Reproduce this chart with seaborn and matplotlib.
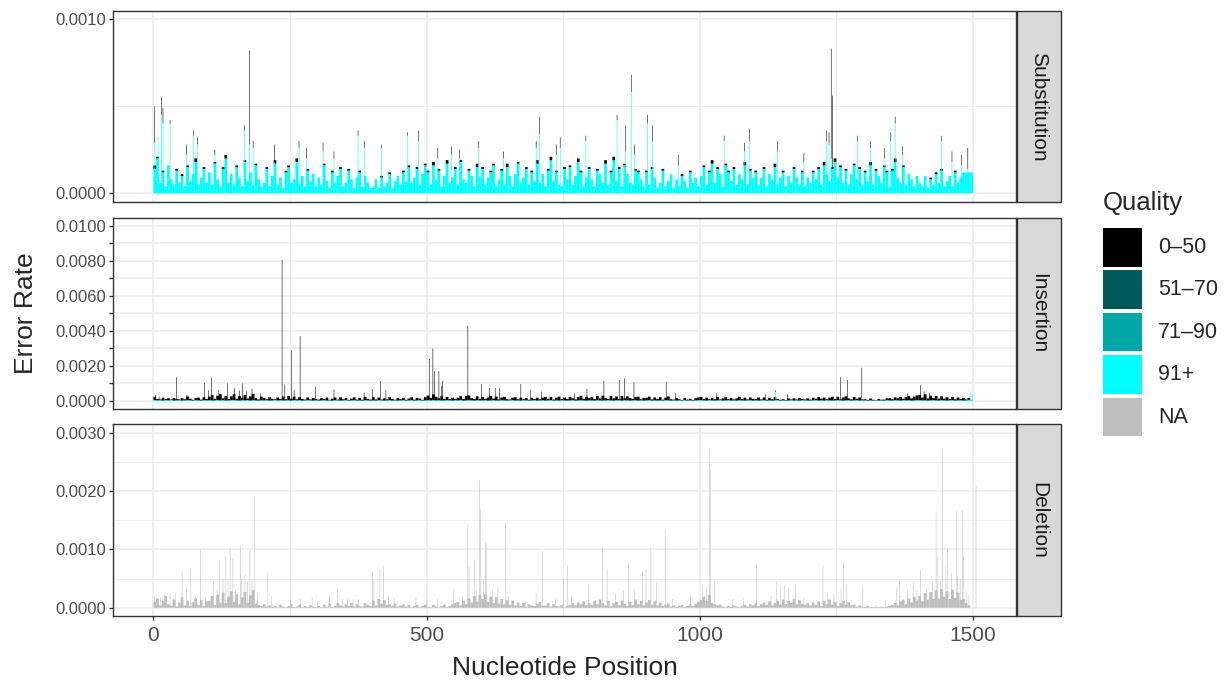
import numpy as np
import pandas as pd
import matplotlib
matplotlib.use("Agg")
import matplotlib.pyplot as plt
from matplotlib.patches import Rectangle
from matplotlib.ticker import FixedLocator, FixedFormatter
import seaborn as sns

# ---- data (error rates in units of 1e-5) ----
quality_levels = ["0–50", "51–70", "71–90", "91+", "NA"]
quality_colors = ["#000000", "#005a5a", "#00a6a6", "#00ffff", "#bebebe"]
panel_names = ["Substitution", "Insertion", "Deletion"]

# background profile, one value per 5 nucleotides (0 .. 1495)
sub_cyan = [
    14, 20, 6, 12, 4, 16, 8, 5, 13, 6, 10, 4, 15, 7, 11, 18, 5, 9, 14, 6,
    12, 5, 17, 8, 4, 14, 20, 6, 11, 5, 15, 9, 4, 18, 7, 12, 5, 16, 8, 4,
    6, 14, 4, 10, 17, 5, 9, 3, 12, 15, 6, 8, 18, 5, 10, 4, 13, 7, 11, 4,
    9, 5, 16, 7, 3, 12, 6, 10, 14, 4, 6, 13, 8, 3, 9, 12, 4, 10, 6, 3,
    4, 8, 3, 9, 4, 6, 11, 3, 7, 10, 5, 12, 7, 15, 6, 9, 14, 5, 11, 16,
    12, 5, 16, 8, 13, 4, 10, 17, 6, 9, 14, 5, 18, 8, 6, 13, 10, 4, 15, 9,
    14, 5, 9, 12, 16, 4, 8, 13, 5, 15, 10, 4, 11, 17, 6, 9, 14, 5, 12, 7,
    17, 6, 11, 4, 13, 19, 7, 12, 5, 4, 14, 8, 15, 5, 10, 18, 12, 4, 9, 14,
    8, 4, 13, 11, 6, 17, 5, 12, 19, 7, 14, 4, 16, 11, 6, 5, 13, 12, 8, 4,
    12, 5, 14, 9, 3, 6, 13, 4, 7, 11, 3, 8, 4, 10, 7, 3, 12, 6, 9, 4,
    10, 15, 5, 12, 17, 6, 14, 11, 4, 16, 12, 7, 14, 5, 11, 8, 16, 5, 13, 9,
    12, 5, 9, 14, 4, 11, 8, 15, 5, 9, 12, 4, 10, 6, 14, 9, 5, 12, 4, 9,
    6, 12, 8, 14, 5, 16, 11, 7, 14, 18, 9, 15, 6, 13, 5, 11, 16, 8, 14, 5,
    12, 7, 16, 5, 13, 10, 6, 15, 12, 4, 13, 18, 9, 6, 15, 5, 11, 8, 4, 10,
    6, 4, 10, 3, 8, 5, 11, 6, 13, 4, 7, 10, 4, 12, 6, 9, 12, 12, 12, 12,
]
sub_black = [
    2, 1, 0, 1, 0, 0, 0, 0, 1, 0, 1, 0, 1, 0, 0, 2, 0, 0, 1, 0,
    0, 0, 1, 0, 0, 1, 2, 0, 0, 0, 1, 0, 0, 1, 0, 0, 0, 1, 0, 0,
    0, 1, 0, 0, 2, 0, 0, 0, 1, 1, 0, 0, 2, 0, 0, 0, 1, 0, 0, 0,
    0, 0, 1, 0, 0, 1, 0, 0, 1, 0, 0, 1, 0, 0, 0, 1, 0, 0, 0, 0,
    0, 0, 0, 1, 0, 0, 1, 0, 0, 0, 0, 1, 0, 1, 0, 0, 1, 0, 0, 1,
    1, 0, 2, 0, 1, 0, 0, 2, 0, 0, 1, 0, 1, 0, 0, 1, 0, 0, 2, 0,
    1, 0, 0, 1, 1, 0, 0, 1, 0, 2, 0, 0, 0, 1, 0, 0, 1, 0, 1, 0,
    2, 0, 0, 0, 1, 2, 0, 1, 0, 0, 1, 0, 1, 0, 0, 2, 1, 0, 0, 1,
    0, 0, 1, 0, 0, 2, 0, 1, 2, 0, 1, 0, 1, 0, 0, 0, 1, 1, 0, 0,
    1, 0, 1, 0, 0, 0, 1, 0, 0, 0, 0, 0, 0, 1, 0, 0, 1, 0, 0, 0,
    0, 1, 0, 1, 2, 0, 1, 0, 0, 1, 1, 0, 1, 0, 0, 0, 2, 0, 1, 0,
    1, 0, 0, 1, 0, 0, 0, 2, 0, 0, 1, 0, 0, 0, 1, 0, 0, 1, 0, 0,
    0, 1, 0, 1, 0, 2, 0, 0, 1, 2, 0, 1, 0, 1, 0, 0, 1, 0, 1, 0,
    1, 0, 2, 0, 1, 0, 0, 1, 1, 0, 1, 2, 0, 0, 1, 0, 0, 0, 0, 0,
    0, 0, 0, 0, 1, 0, 1, 0, 1, 0, 0, 0, 0, 1, 0, 0, 0, 0, 0, 0,
]
ins_cyan = [
    6, 4, 5, 3, 5, 4, 6, 3, 4, 5, 3, 4, 6, 4, 3, 5, 4, 3, 5, 4,
    5, 3, 4, 6, 4, 5, 3, 4, 5, 6, 4, 3, 5, 4, 6, 3, 5, 4, 3, 5,
    4, 5, 3, 4, 6, 4, 5, 3, 4, 5, 3, 6, 4, 5, 3, 4, 5, 4, 3, 4,
    3, 4, 5, 3, 4, 3, 5, 4, 3, 4, 5, 3, 4, 5, 3, 4, 3, 5, 4, 3,
    4, 3, 5, 4, 3, 4, 5, 3, 4, 3, 4, 5, 3, 4, 5, 3, 4, 5, 3, 4,
    5, 4, 6, 4, 5, 3, 4, 5, 4, 3, 5, 4, 6, 3, 4, 5, 4, 3, 5, 4,
    4, 5, 3, 4, 5, 4, 3, 5, 4, 3, 4, 5, 3, 4, 3, 5, 4, 3, 4, 5,
    3, 4, 5, 3, 4, 5, 3, 4, 3, 5, 4, 3, 4, 5, 3, 4, 5, 4, 3, 4,
    4, 3, 5, 4, 3, 4, 5, 4, 3, 5, 4, 3, 5, 4, 3, 4, 5, 3, 4, 3,
    4, 5, 3, 4, 3, 4, 3, 5, 4, 3, 4, 3, 4, 3, 5, 3, 4, 3, 4, 5,
    5, 4, 3, 5, 4, 3, 4, 5, 3, 4, 5, 3, 4, 3, 5, 4, 3, 4, 5, 3,
    4, 3, 4, 5, 3, 4, 3, 4, 5, 3, 4, 3, 4, 5, 3, 4, 3, 5, 4, 3,
    3, 4, 5, 3, 4, 3, 5, 4, 3, 4, 5, 4, 3, 4, 5, 3, 4, 5, 3, 4,
    4, 3, 4, 3, 4, 3, 4, 3, 5, 4, 3, 5, 4, 3, 5, 4, 5, 3, 4, 5,
    5, 4, 5, 3, 4, 5, 4, 3, 5, 4, 3, 4, 5, 3, 4, 5, 3, 4, 6, 8,
]
ins_black = [
    18, 8, 4, 16, 6, 12, 3, 14, 7, 4, 13, 6, 20, 9, 4, 11, 15, 5, 17, 8,
    20, 30, 9, 24, 35, 10, 26, 7, 22, 32, 9, 25, 14, 30, 8, 24, 36, 12, 6, 20,
    14, 5, 18, 9, 4, 16, 7, 22, 6, 24, 10, 19, 6, 17, 9, 4, 15, 5, 14, 7,
    5, 13, 6, 17, 3, 10, 15, 4, 18, 6, 12, 3, 9, 16, 5, 14, 4, 19, 8, 5,
    18, 6, 15, 4, 12, 5, 17, 8, 3, 15, 6, 13, 4, 10, 16, 5, 14, 9, 4, 18,
    26, 14, 32, 20, 10, 24, 8, 18, 7, 16, 6, 15, 21, 8, 24, 27, 12, 9, 22, 8,
    19, 7, 17, 24, 9, 21, 6, 15, 20, 7, 5, 14, 18, 6, 16, 5, 12, 4, 14, 6,
    16, 6, 14, 20, 8, 18, 5, 15, 22, 6, 16, 8, 20, 10, 6, 18, 25, 9, 21, 12,
    18, 8, 23, 11, 27, 13, 7, 24, 12, 21, 7, 26, 10, 23, 14, 8, 18, 21, 6, 15,
    14, 20, 6, 16, 8, 18, 5, 14, 22, 7, 4, 13, 6, 3, 11, 5, 9, 3, 12, 15,
    18, 8, 16, 5, 14, 7, 19, 4, 12, 17, 6, 15, 5, 12, 19, 7, 16, 5, 15, 9,
    7, 17, 5, 15, 4, 13, 8, 19, 6, 4, 6, 3, 10, 4, 12, 5, 14, 7, 5, 12,
    5, 15, 8, 19, 9, 17, 5, 15, 21, 8, 19, 6, 17, 22, 10, 6, 19, 8, 17, 5,
    6, 3, 10, 4, 2, 8, 3, 5, 10, 12, 7, 16, 11, 20, 8, 18, 23, 12, 21, 27,
    30, 16, 33, 12, 26, 11, 24, 10, 22, 9, 19, 8, 18, 7, 16, 6, 15, 5, 12, 0,
]
del_grey = [
    10, 16, 4, 12, 20, 6, 3, 14, 2, 9, 18, 4, 12, 3, 10, 16, 5, 13, 3, 11,
    12, 20, 5, 22, 9, 26, 8, 19, 28, 10, 23, 6, 18, 27, 8, 21, 30, 7, 5, 3,
    6, 2, 4, 1, 3, 1, 5, 2, 1, 3, 6, 1, 2, 5, 1, 3, 1, 4, 2, 1,
    3, 1, 5, 2, 7, 1, 3, 8, 4, 2, 6, 3, 8, 2, 6, 3, 2, 8, 5, 3,
    12, 4, 15, 7, 13, 5, 6, 3, 7, 2, 4, 6, 2, 5, 1, 3, 5, 1, 3, 5,
    2, 1, 5, 2, 1, 3, 5, 1, 3, 6, 8, 10, 4, 12, 6, 16, 9, 20, 10, 22,
    15, 24, 10, 19, 8, 18, 7, 15, 6, 13, 5, 12, 4, 9, 3, 8, 2, 6, 4, 3,
    7, 10, 3, 4, 8, 2, 6, 3, 2, 5, 1, 3, 5, 8, 4, 9, 6, 11, 4, 8,
    5, 12, 6, 14, 8, 4, 12, 3, 8, 10, 4, 12, 7, 3, 10, 5, 14, 6, 12, 4,
    9, 13, 5, 11, 4, 9, 3, 5, 7, 2, 4, 1, 3, 5, 1, 3, 6, 3, 7, 10,
    13, 19, 12, 22, 8, 6, 4, 5, 2, 1, 3, 1, 4, 2, 1, 3, 5, 2, 6, 4,
    8, 3, 6, 9, 5, 11, 4, 8, 12, 5, 14, 6, 12, 8, 15, 6, 13, 7, 5, 8,
    4, 9, 5, 11, 3, 12, 6, 14, 5, 10, 3, 8, 12, 5, 10, 4, 5, 2, 4, 2,
    1, 3, 1, 1, 2, 1, 2, 1, 2, 3, 5, 8, 4, 11, 14, 6, 16, 9, 19, 12,
    20, 11, 25, 14, 27, 15, 30, 16, 32, 19, 28, 15, 31, 17, 26, 13, 15, 8, 4, 0,
]

# single-position peaks
sub_peak_pos = [2, 8, 14, 17, 30, 60, 73, 80, 112, 166, 175, 182, 221, 266, 280,
                310, 330, 374, 386, 417, 464, 485, 520, 545, 560, 595, 640, 700,
                706, 737, 744, 791, 848, 864, 874, 880, 904, 913, 960, 1044, 1081,
                1090, 1142, 1190, 1231, 1236, 1240, 1242, 1288, 1312, 1338, 1349,
                1357, 1370, 1442, 1461, 1478, 1490]
sub_peak_cyan = [29, 32, 45, 40, 40, 22, 33, 28, 22, 36, 28, 26, 18, 26, 20,
                 24, 20, 33, 26, 26, 33, 30, 20, 22, 20, 26, 20, 26,
                 34, 22, 26, 30, 42, 24, 58, 22, 40, 30, 16, 30, 24,
                 30, 24, 18, 30, 28, 20, 14, 30, 26, 20, 30,
                 40, 22, 30, 18, 16, 14]
sub_peak_black = [21, 0, 10, 9, 2, 6, 3, 4, 3, 3, 54, 4, 10, 4, 6,
                  5, 4, 3, 4, 2, 2, 6, 6, 5, 5, 4, 4, 4,
                  10, 6, 6, 3, 3, 15, 10, 6, 5, 9, 6, 3, 5,
                  7, 6, 5, 6, 7, 63, 42, 3, 4, 6, 5,
                  4, 5, 3, 6, 6, 12]

ins_peak_pos = [3, 10, 42, 60, 93, 100, 106, 118, 135, 148, 157, 163, 170, 180,
                195, 235, 240, 252, 257, 268, 296, 330, 385, 400, 415, 425, 505,
                511, 514, 522, 527, 529, 575, 600, 615, 625, 633, 672, 690, 710,
                770, 793, 824, 852, 862, 879, 938, 955, 1030, 1120, 1138, 1160,
                1257, 1270, 1296, 1380, 1403, 1410, 1420, 1494, 1498]
ins_peak_cyan = [5, 5, 8, 4, 6, 5, 6, 5, 5, 4, 5, 6, 5, 5,
                 4, 10, 5, 5, 4, 6, 6, 5, 4, 4, 6, 4, 8,
                 6, 5, 6, 5, 6, 10, 5, 4, 4, 4, 5, 4, 4,
                 4, 5, 6, 6, 6, 6, 6, 4, 4, 4, 50, 4,
                 6, 6, 8, 4, 5, 4, 4, 55, 40]
ins_peak_black = [30, 20, 127, 30, 99, 55, 127, 60, 95, 70, 55, 94, 50, 67,
                  40, 796, 90, 285, 60, 364, 74, 62, 45, 65, 108, 60, 232,
                  294, 165, 164, 80, 110, 420, 92, 70, 70, 70, 92, 60, 50,
                  40, 65, 108, 114, 124, 101, 104, 40, 40, 35, 10, 35,
                  129, 114, 182, 40, 85, 50, 40, 0, 0]

del_peak_pos = [2, 12, 20, 30, 40, 52, 60, 68, 76, 86, 95, 110, 116, 121, 127,
                132, 136, 140, 145, 150, 159, 161, 167, 172, 176, 180, 184, 190,
                209, 216, 250, 268, 290, 300, 322, 336, 345, 355, 365, 375, 400,
                403, 414, 421, 430, 440, 480, 500, 520, 549, 565, 575, 577, 587,
                590, 596, 598, 604, 607, 609, 620, 630, 644, 650, 680, 700, 712,
                735, 750, 757, 765, 796, 821, 830, 845, 860, 869, 880, 895, 901,
                910, 920, 936, 950, 982, 1005, 1012, 1017, 1019, 1027, 1060,
                1080, 1103, 1130, 1140, 1147, 1154, 1162, 1175, 1190, 1225, 1233,
                1245, 1258, 1263, 1268, 1298, 1340, 1360, 1365, 1380, 1390, 1397,
                1403, 1415, 1425, 1432, 1434, 1440, 1444, 1450, 1453, 1460, 1469,
                1471, 1476, 1480, 1482, 1487, 1492, 1505]
del_peak_grey = [20, 18, 22, 25, 25, 62, 36, 66, 20, 100, 18, 45, 30, 82, 50,
                 89, 50, 100, 85, 30, 107, 50, 57, 45, 98, 50, 191, 25,
                 60, 20, 15, 15, 18, 12, 22, 33, 15, 15, 15, 15, 62,
                 52, 66, 72, 20, 15, 18, 12, 15, 30, 20, 143, 70, 82,
                 30, 219, 170, 50, 112, 109, 30, 35, 146, 20, 12, 25, 97,
                 15, 50, 73, 20, 39, 105, 67, 25, 30, 77, 30, 63, 66,
                 103, 42, 132, 15, 23, 40, 35, 274, 236, 47, 15,
                 15, 73, 20, 45, 38, 38, 36, 40, 18, 72, 25,
                 25, 35, 76, 40, 37, 12, 35, 45, 30, 45, 30,
                 66, 35, 45, 165, 90, 45, 271, 70, 100, 60, 166,
                 55, 50, 166, 90, 30, 23, 209]

base_pos = np.arange(0, 1500, 5)


def frame(pos, values, level):
    return pd.DataFrame({"pos": pos, "rate": np.array(values) * 1e-5, "Quality": level})


base_data = [
    pd.concat([frame(base_pos, sub_cyan, "91+"), frame(base_pos, sub_black, "0–50")]),
    pd.concat([frame(base_pos, ins_cyan, "91+"), frame(base_pos, ins_black, "0–50")]),
    frame(base_pos, del_grey, "NA"),
]
peak_data = [
    pd.concat([frame(sub_peak_pos, sub_peak_cyan, "91+"), frame(sub_peak_pos, sub_peak_black, "0–50")]),
    pd.concat([frame(ins_peak_pos, ins_peak_cyan, "91+"), frame(ins_peak_pos, ins_peak_black, "0–50")]),
    frame(del_peak_pos, del_peak_grey, "NA"),
]

# ---- figure ----
sns.set_style("white")
plt.rcParams["font.family"] = ["Liberation Sans", "DejaVu Sans"]

W, H = 1227, 684
fig = plt.figure(figsize=(W / 100, H / 100), dpi=100)
palette = dict(zip(quality_levels, quality_colors))

panel_px = [(10.7, 202), (217.7, 409), (424.3, 616)]
left_px, right_px = 113.3, 1016
ylims = [(-0.0000499, 0.0010476), (-0.000457, 0.01047), (-0.000142, 0.003144)]
major_y = [[0, 0.001], list(np.arange(11) * 0.001), [0, 0.001, 0.002, 0.003]]
label_y = [["0.0000", "0.0010"],
           ["0.0000", "", "0.0020", "", "0.0040", "", "0.0060", "", "0.0080", "", "0.0100"],
           ["0.0000", "0.0010", "0.0020", "0.0030"]]
minor_y = [[0.0005], [], [0.0005, 0.0015, 0.0025]]

for i in range(3):
    top, bot = panel_px[i]
    ax = fig.add_axes([left_px / W, 1 - bot / H, (right_px - left_px) / W, (bot - top) / H])
    sns.histplot(data=base_data[i], x="pos", weights="rate", hue="Quality",
                 hue_order=quality_levels, palette=palette, multiple="stack",
                 binwidth=5, binrange=(0, 1500), linewidth=0, alpha=1,
                 snap=False, legend=False, ax=ax)
    sns.histplot(data=peak_data[i], x="pos", weights="rate", hue="Quality",
                 hue_order=quality_levels, palette=palette, multiple="stack",
                 binwidth=1, binrange=(0, 1510), linewidth=0, alpha=1,
                 snap=False, legend=False, ax=ax)
    ax.set_xlim(-73.4, 1578.7)
    ax.set_ylim(*ylims[i])
    ax.set_xlabel("")
    ax.set_ylabel("")
    ax.xaxis.set_major_locator(FixedLocator([0, 500, 1000, 1500]))
    ax.xaxis.set_minor_locator(FixedLocator([250, 750, 1250]))
    ax.yaxis.set_major_locator(FixedLocator(major_y[i]))
    ax.yaxis.set_major_formatter(FixedFormatter(label_y[i]))
    ax.yaxis.set_minor_locator(FixedLocator(minor_y[i]))
    ax.set_axisbelow(True)
    ax.grid(which="major", color="#ebebeb", linewidth=1.1)
    ax.grid(which="minor", color="#ebebeb", linewidth=0.55)
    for s in ax.spines.values():
        s.set_color("#333333")
        s.set_linewidth(1.0)
    ax.tick_params(which="major", length=3, width=1.0, color="#333333",
                   labelcolor="#4d4d4d", left=True, bottom=True, pad=2)
    ax.tick_params(which="minor", length=0)
    ax.tick_params(axis="y", labelsize=12)
    ax.tick_params(axis="x", labelsize=15, pad=4)
    if i < 2:
        ax.tick_params(axis="x", bottom=False, labelbottom=False)

# ---- overlay: strips, titles, legend ----
ov = fig.add_axes([0, 0, 1, 1])
ov.set_xlim(0, W)
ov.set_ylim(H, 0)
ov.axis("off")
ov.patch.set_alpha(0)

for i, name in enumerate(panel_names):
    top, bot = panel_px[i]
    ov.add_patch(Rectangle((1017, top), 44, bot - top, facecolor="#d9d9d9",
                           edgecolor="#333333", linewidth=1.0))
    ov.text(1039, (top + bot) / 2, name, rotation=270, ha="center", va="center",
            fontsize=15, color="#1a1a1a")

ov.text(26, 313, "Error Rate", rotation=90, ha="center", va="center", fontsize=19)
ov.text(564.5, 668, "Nucleotide Position", ha="center", va="center", fontsize=19)

ov.text(1103, 203, "Quality", ha="left", va="center", fontsize=18.5)
for k, (lab, col) in enumerate(zip(quality_levels, quality_colors)):
    y0 = 228 + k * 42.4
    ov.add_patch(Rectangle((1103, y0), 39, 38.5, facecolor=col, edgecolor="none"))
    ov.text(1158, y0 + 19.5, lab, ha="left", va="center", fontsize=15.5)

fig.savefig("out.png", dpi=100)
